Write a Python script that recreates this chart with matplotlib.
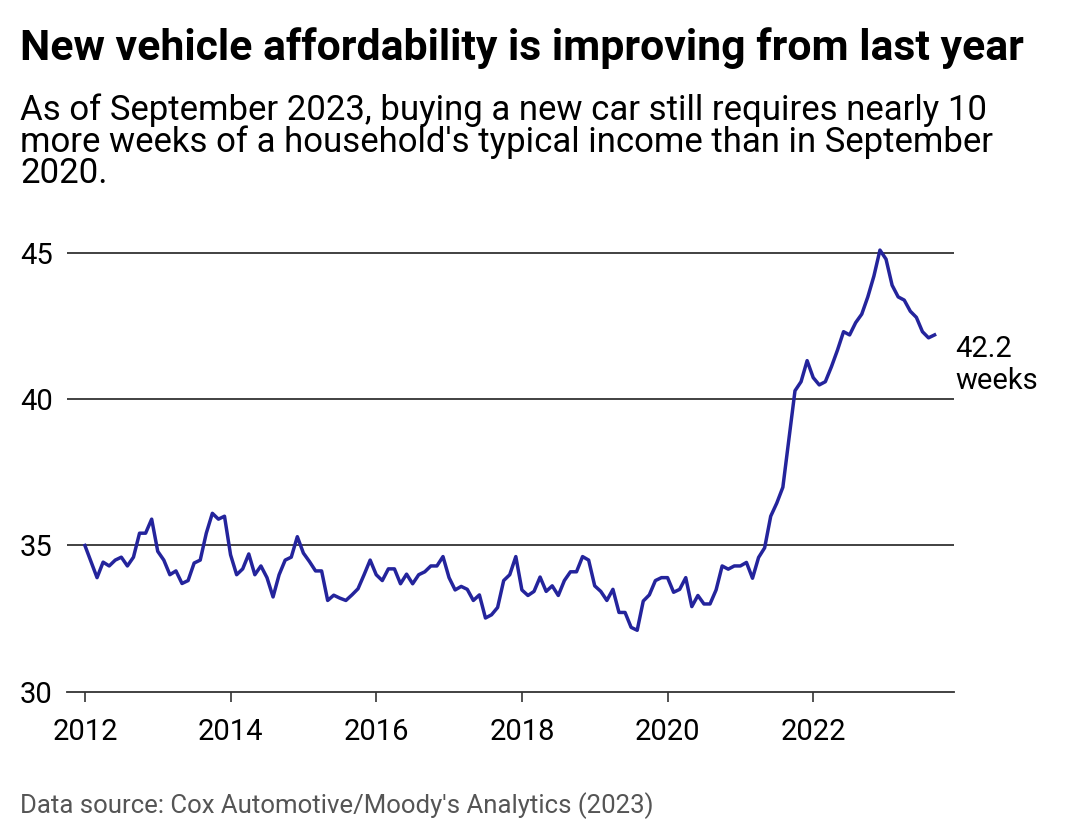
import numpy as np
import matplotlib
matplotlib.use('Agg')
import matplotlib.pyplot as plt

plt.rcParams['font.family'] = ['Roboto', 'DejaVu Sans']

# monthly values, Jan 2012 .. Sep 2023 (weeks of median income)
weeks = [
    35.0, 34.45, 33.9, 34.43, 34.3, 34.5, 34.6, 34.3, 34.6, 35.42, 35.42, 35.9,   # 2012
    34.8, 34.5, 34.0, 34.13, 33.7, 33.8, 34.4, 34.5, 35.42, 36.1, 35.9, 36.0,     # 2013
    34.68, 34.0, 34.2, 34.71, 34.0, 34.3, 33.9, 33.24, 34.0, 34.5, 34.6, 35.3,    # 2014
    34.74, 34.45, 34.13, 34.13, 33.12, 33.3, 33.2, 33.12, 33.31, 33.52, 34.0, 34.5,  # 2015
    34.0, 33.8, 34.2, 34.2, 33.69, 34.02, 33.69, 34.0, 34.1, 34.3, 34.3, 34.62,   # 2016
    33.9, 33.48, 33.6, 33.5, 33.12, 33.31, 32.52, 32.63, 32.88, 33.8, 34.0, 34.62,  # 2017
    33.48, 33.29, 33.43, 33.92, 33.43, 33.62, 33.29, 33.8, 34.1, 34.1, 34.62, 34.5,  # 2018
    33.62, 33.43, 33.12, 33.5, 32.71, 32.71, 32.2, 32.1, 33.1, 33.31, 33.8, 33.9,  # 2019
    33.9, 33.4, 33.5, 33.9, 32.91, 33.29, 33.0, 33.0, 33.48, 34.3, 34.19, 34.3,   # 2020
    34.3, 34.42, 33.88, 34.59, 34.92, 36.0, 36.45, 36.99, 38.64, 40.29, 40.6, 41.32,  # 2021
    40.74, 40.49, 40.6, 41.11, 41.68, 42.31, 42.2, 42.62, 42.91, 43.5, 44.21, 45.1,  # 2022
    44.79, 43.9, 43.5, 43.39, 43.01, 42.8, 42.31, 42.1, 42.2,                     # 2023
]
start_year = 2012
tick_years = [2012, 2014, 2016, 2018, 2020, 2022]
y_ticks = [30, 35, 40, 45]

title = "New vehicle affordability is improving from last year"
subtitle = ("As of September 2023, buying a new car still requires nearly 10\n"
            "more weeks of a household's typical income than in September\n"
            "2020.")
source = "Data source: Cox Automotive/Moody's Analytics (2023)"
end_label = "42.2\nweeks"

t = start_year + np.arange(len(weeks)) / 12.0

fig = plt.figure(figsize=(10.8, 8.4), dpi=100)
ax = fig.add_axes([66.7 / 1080, 1 - 691.7 / 840, (954 - 66.7) / 1080, (691.7 - 238.4) / 840])

for yv in y_ticks[1:]:
    ax.axhline(yv, color='#333333', lw=1.3, zorder=1)
ax.plot(t, weeks, color='#24249c', lw=2.5, solid_joinstyle='round', zorder=3)

ax.set_xlim(start_year - 3 / 12, start_year + 143.2 / 12)
ax.set_ylim(30, 45.5)
ax.set_xticks(tick_years)
ax.set_xticklabels([str(y) for y in tick_years])
ax.set_yticks(y_ticks)
ax.set_yticklabels([str(v) for v in y_ticks])

for s in ['top', 'right', 'left']:
    ax.spines[s].set_visible(False)
ax.spines['bottom'].set_color('#333333')
ax.spines['bottom'].set_linewidth(1.3)
ax.tick_params(axis='x', length=7, width=1.2, color='#333333', pad=12, labelsize=21)
ax.tick_params(axis='y', length=0, pad=10, labelsize=21)

# multiline text with va='baseline' sits on the baseline of its last line
ax.annotate(end_label, xy=(t[-1], weeks[-1]), xycoords='data',
            xytext=(955, 840 - 389.3), textcoords='figure pixels',
            fontsize=21, ha='left', va='baseline', linespacing=1.2,
            annotation_clip=False)

fig.text(20 / 1080, 1 - 60 / 840, title, fontsize=30.8, fontweight='bold', va='baseline', ha='left')
fig.text(20 / 1080, 1 - 183 / 840, subtitle, fontsize=25, va='baseline', ha='left',
         linespacing=0.93)
fig.text(20 / 1080, 1 - 813 / 840, source, fontsize=18.5, color='#555555', va='baseline', ha='left')

fig.savefig('out.png', dpi=100)
